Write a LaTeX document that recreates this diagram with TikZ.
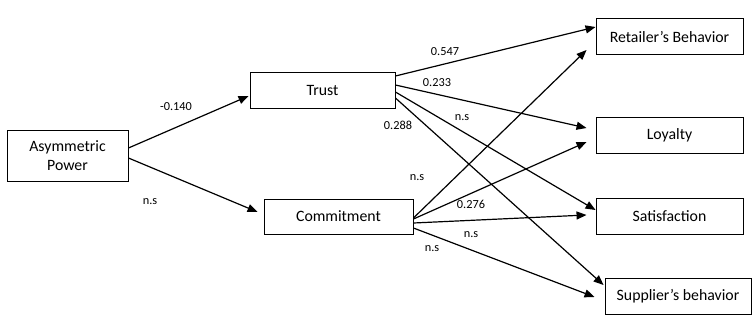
\documentclass[tikz,border=0pt]{standalone}
\usepackage{fontspec}
\setmainfont{Carlito}
\usetikzlibrary{arrows.meta,calc}

\begin{document}
\begin{tikzpicture}[x=1pt,y=-1pt,
  box/.style={draw,line width=0.9pt,minimum width=147pt,minimum height=36pt,inner sep=0pt,align=center,font=\fontsize{15.8}{19}\selectfont},
  link/.style={-{Triangle[length=10pt,width=8pt]},line width=1.2pt},
  coef/.style={font=\fontsize{12.3}{14}\selectfont}]
\useasboundingbox (0,0) rectangle (752,324);
\node[box,minimum width=121pt,minimum height=51pt] (power) at (67.5,155.5) {Asymmetric\\Power};
\node[box,minimum width=145pt] (trust) at (322.5,90) {Trust};
\node[box,minimum width=149pt,minimum height=35pt] (commit) at (338.5,216.5) {Commitment};
\node[box] (retail) at (669.5,36.5) {Retailer’s Behavior};
\node[box] (loyal) at (669.5,135) {Loyalty};
\node[box] (satis) at (669.5,216) {Satisfaction};
\node[box,minimum width=146pt] (supplier) at (678,296) {Supplier’s behavior};
% paths from asymmetric power
\draw[link] ($(power.east)+(0,-7.5)$) -- ($(trust.west)+(-1,6)$);
\draw[link] ($(power.east)+(0,2.5)$) -- ($(commit.west)+(-6,-4.5)$);
% paths from trust
\draw[link] ($(trust.east)+(0,-14)$) -- ($(retail.west)+(0,-9.5)$);
\draw[link] ($(trust.east)+(0,-5)$) -- ($(loyal.west)+(-9,-7)$);
\draw[link] ($(trust.east)+(0,2)$) -- ($(satis.west)+(0,-6)$);
\draw[link] ($(trust.east)+(0,8)$) -- ($(supplier.west)+(-1,-11)$);
% paths from commitment
\draw[link] ($(commit.east)+(0,1.5)$) -- ($(retail.west)+(-9,13.5)$);
\draw[link] ($(commit.east)+(0,2.5)$) -- ($(loyal.west)+(-9,7)$);
\draw[link] ($(commit.east)+(0,6.5)$) -- ($(satis.west)+(-9,-1)$);
\draw[link] ($(commit.east)+(0,11.5)$) -- ($(supplier.west)+(-10,1)$);
% coefficients
\node[coef] (c1) at (176,107) {-0.140};
\node[coef] (c2) at (150,202) {n.s};
\node[coef] (c3) at (445,52) {0.547};
\node[coef] (c4) at (437,83) {0.233};
\node[coef] (c5) at (398,125) {0.288};
\node[coef] (c6) at (462,118) {n.s};
\node[coef] (c7) at (417,178) {n.s};
\node[coef] (c8) at (471,204) {0.276};
\node[coef] (c9) at (471,235) {n.s};
\node[coef] (c10) at (432,249) {n.s};
\end{tikzpicture}
\end{document}
